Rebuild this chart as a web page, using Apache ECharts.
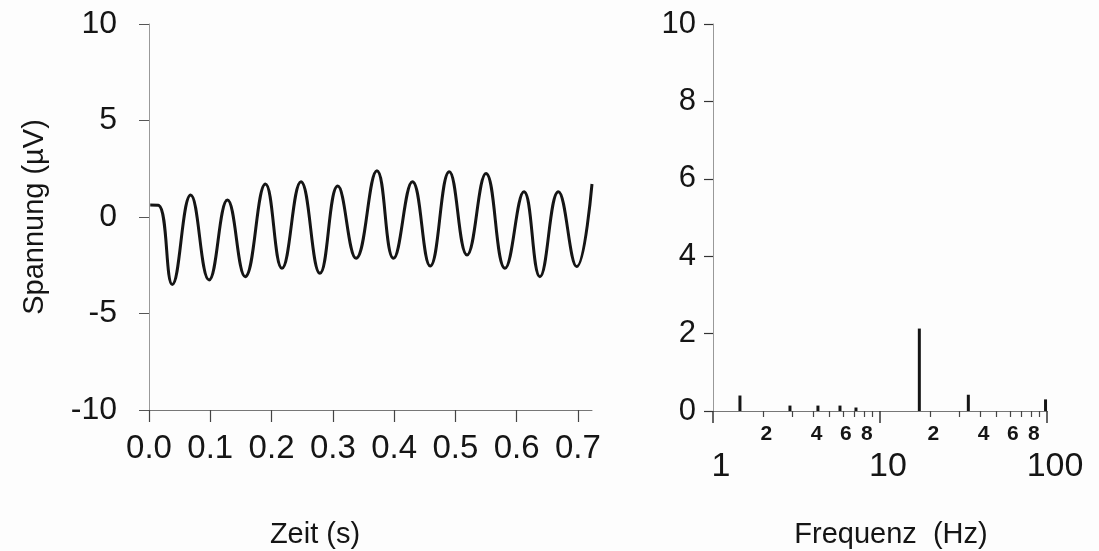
<!DOCTYPE html>
<html><head><meta charset="utf-8">
<script src="https://cdn.jsdelivr.net/npm/echarts@6/dist/echarts.min.js"></script>
<style>html,body{margin:0;padding:0;background:#fdfdfd}#c{width:1099px;height:551px}</style>
</head><body><div id="c"></div>
<script>
// Left panel: time signal
const timeS = [0.002, 0.016, 0.038, 0.068, 0.098, 0.128, 0.157, 0.190, 0.217, 0.248, 0.279, 0.308, 0.338, 0.372, 0.399, 0.430, 0.459, 0.490, 0.519, 0.550, 0.581, 0.612, 0.638, 0.668, 0.698, 0.723];
const voltageUV = [0.62, 0.60, -3.50, 1.14, -3.26, 0.88, -3.09, 1.71, -2.66, 1.83, -2.92, 1.60, -2.14, 2.40, -2.14, 1.83, -2.54, 2.35, -1.97, 2.26, -2.66, 1.31, -3.09, 1.31, -2.57, 1.71];
const timeTicks = [0, 0.1, 0.2, 0.3, 0.4, 0.5, 0.6, 0.7];
const voltTicks = [-10, -5, 0, 5, 10];
// Right panel: spectrum
const freqHz = [1.45, 2.89, 4.25, 5.76, 7.18, 17.2, 33.8, 98];
const amplitude = [0.40, 0.14, 0.14, 0.14, 0.09, 2.13, 0.42, 0.30];
const ampTicks = [0, 2, 4, 6, 8, 10];
const freqMajorTicks = [1, 10, 100];
const freqMinorLabels = [2, 4, 6, 8, 20, 40, 60, 80];
const freqMinorTicks = [2, 3, 4, 5, 6, 7, 8, 9, 20, 30, 40, 50, 60, 70, 80, 90];

const FONT = 'Liberation Sans';
const INK = '#151515';
const leadDigit = v => String(Math.round(v / Math.pow(10, Math.floor(Math.log10(v) + 1e-9))));
const chart = echarts.init(document.getElementById('c'), null, {renderer: 'canvas'});
chart.setOption({
  backgroundColor: '#fdfdfd',
  animation: false,
  grid: [
    {left: 149, top: 24, width: 443, height: 386, containLabel: false, outerBoundsMode: 'none'},
    {left: 713, top: 24, width: 334, height: 387, containLabel: false, outerBoundsMode: 'none'}
  ],
  xAxis: [
    {type: 'value', gridIndex: 0, min: 0, max: 0.723, position: 'bottom',
     axisLine: {show: true, onZero: false, lineStyle: {color: '#777', width: 1}},
     axisTick: {show: true, length: 12, customValues: timeTicks, lineStyle: {color: '#444', width: 1.2}},
     axisLabel: {customValues: timeTicks, formatter: v => v.toFixed(1), fontFamily: FONT, fontSize: 33, color: INK, margin: 22, hideOverlap: false},
     splitLine: {show: false}},
    {type: 'log', gridIndex: 1, logBase: 10, min: 1, max: 100, position: 'bottom',
     axisLine: {show: true, onZero: false, lineStyle: {color: '#777', width: 1}},
     axisTick: {show: true, length: 12, customValues: freqMajorTicks, lineStyle: {color: '#333', width: 1.5}},
     axisLabel: {customValues: freqMajorTicks, fontFamily: FONT, fontSize: 34, color: INK, margin: 39, padding: [0, 0, 0, 16], hideOverlap: false},
     minorTick: {show: false}, splitLine: {show: false}},
    {type: 'log', gridIndex: 1, logBase: 10, min: 1, max: 100, position: 'bottom', offset: 0,
     axisLine: {show: false},
     axisTick: {show: true, length: 6, customValues: freqMinorTicks, lineStyle: {color: '#444', width: 1.2}},
     axisLabel: {customValues: freqMinorLabels, formatter: leadDigit, fontFamily: FONT, fontWeight: 'bold', fontSize: 21, lineHeight: 21, color: INK, margin: 13, padding: [0, 0, 0, 6], hideOverlap: false, showMinLabel: true, showMaxLabel: true},
     splitLine: {show: false}}
  ],
  yAxis: [
    {type: 'value', gridIndex: 0, min: -10, max: 10, interval: 5,
     name: 'Spannung (µV)', nameLocation: 'middle', nameGap: 100, nameRotate: 90,
     nameTextStyle: {fontFamily: FONT, fontSize: 29, color: INK},
     axisLine: {show: true, lineStyle: {color: '#999', width: 1}},
     axisTick: {show: true, length: 10, lineStyle: {color: '#555', width: 1}},
     axisLabel: {fontFamily: FONT, fontSize: 32, color: INK, margin: 32},
     splitLine: {show: false}},
    {type: 'value', gridIndex: 1, min: 0, max: 10, interval: 2,
     axisLine: {show: true, lineStyle: {color: '#999', width: 1}},
     axisTick: {show: true, length: 9, lineStyle: {color: '#333', width: 1.2}},
     axisLabel: {fontFamily: FONT, fontSize: 31, color: INK, margin: 17},
     splitLine: {show: false}}
  ],
  graphic: [
    {type: 'text', x: 315, y: 535, style: {text: 'Zeit (s)', font: '29px "Liberation Sans"', fill: INK, align: 'center', verticalAlign: 'middle'}},
    {type: 'text', x: 891, y: 535, style: {text: 'Frequenz  (Hz)', font: '29px "Liberation Sans"', fill: INK, align: 'center', verticalAlign: 'middle'}}
  ],
  series: [
    {type: 'line', xAxisIndex: 0, yAxisIndex: 0, clip: false, symbol: 'none', smooth: 0.45,
     lineStyle: {color: INK, width: 3},
     data: timeS.map((t, i) => [t, voltageUV[i]])},
    {type: 'custom', xAxisIndex: 1, yAxisIndex: 1, clip: false,
     data: freqHz.map((f, i) => [f, amplitude[i]]),
     renderItem: (params, api) => {
       const p0 = api.coord([api.value(0), 0]);
       const p1 = api.coord([api.value(0), api.value(1)]);
       return {type: 'line', shape: {x1: p0[0], y1: p0[1], x2: p1[0], y2: p1[1]},
               style: {stroke: INK, lineWidth: 3}};
     }}
  ]
});
</script></body></html>
